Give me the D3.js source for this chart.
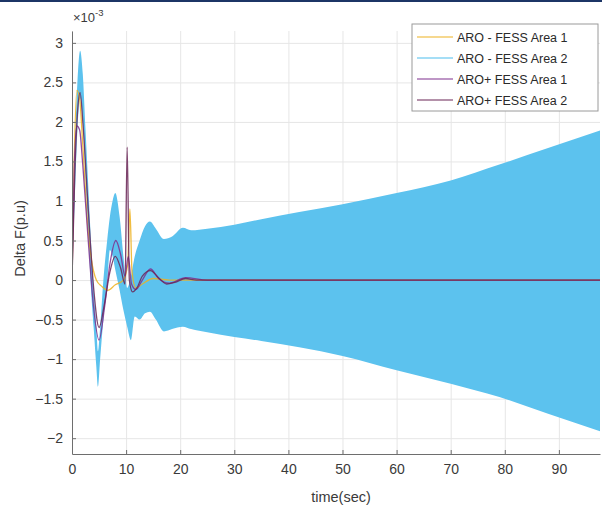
<!DOCTYPE html>
<html>
<head>
<meta charset="utf-8">
<script src="https://cdn.jsdelivr.net/npm/d3@7"></script>
<style>
  body { margin: 0; background: #fff; }
  svg { font-family: Arial, "Liberation Sans", sans-serif; }
</style>
</head>
<body>
<svg width="602" height="511"></svg>
<script>
// values in units of 1e-3 p.u.
var seriesNames = ["ARO - FESS Area 1", "ARO - FESS Area 2", "ARO+ FESS Area 1", "ARO+ FESS Area 2"];
var seriesColors = ["#EDB120", "#4DBEEE", "#7E2F8E", "#6A2456"];
var xTicks = [0, 10, 20, 30, 40, 50, 60, 70, 80, 90];
var yTicks = [-2, -1.5, -1, -0.5, 0, 0.5, 1, 1.5, 2, 2.5, 3];

// ARO - FESS Area 1
var tA = [0, 0.4, 0.9, 1.4, 2, 3, 3.5, 4.5, 5.5, 6.6, 8, 9.5, 10.3, 10.7, 11.1, 11.8, 13, 15, 18, 25, 98];
var vA = [0, 1.5, 2.4, 2.3, 1.7, 0.6, 0.3, 0.0, -0.08, -0.13, -0.06, 0.0, 0.2, 0.9, 0.1, -0.1, -0.05, 0.02, 0, 0, 0];

// ARO - FESS Area 2 (fast oscillation, drawn by its envelope)
var tB = [0, 0.5, 1, 1.5, 2, 2.5, 3, 3.5, 4, 4.5, 4.8, 5.2, 5.8, 6.5, 7, 7.5, 8, 8.8, 9.5, 10.2, 10.9, 11.6, 12.5, 13.5, 14.4, 15.5, 17, 18.5, 20.5, 22, 25, 30, 35, 42, 50, 60, 70, 79, 88, 98];
var upB = [0, 1.6, 2.5, 2.9, 2.6, 1.9, 1.2, 0.5, -0.1, -0.6, -0.9, -0.6, 0.0, 0.5, 0.8, 1.0, 1.1, 0.8, 0.3, -0.1, 0.05, 0.3, 0.5, 0.68, 0.74, 0.65, 0.52, 0.55, 0.66, 0.63, 0.65, 0.7, 0.77, 0.86, 0.96, 1.1, 1.26, 1.46, 1.67, 1.9];
var loB = [0, 1.0, 1.9, 2.3, 2.0, 1.3, 0.6, -0.1, -0.6, -1.1, -1.35, -1.0, -0.5, -0.05, 0.38, 0.3, 0.13, -0.13, -0.38, -0.59, -0.76, -0.46, -0.5, -0.42, -0.4, -0.5, -0.65, -0.62, -0.59, -0.62, -0.66, -0.72, -0.77, -0.85, -0.96, -1.14, -1.31, -1.48, -1.69, -1.92];

// ARO+ FESS Area 1
var tC = [0, 0.4, 0.9, 1.4, 2, 3, 4, 5, 6, 7, 8.1, 9, 9.8, 10.4, 11, 11.8, 13, 14.5, 16, 18, 21, 25, 98];
var vC = [0, 1.4, 1.95, 1.9, 1.45, 0.5, -0.35, -0.76, -0.35, 0.2, 0.5, 0.32, 0.05, 0.3, -0.05, -0.12, 0.0, 0.14, 0.02, -0.04, 0.03, 0, 0];

// ARO+ FESS Area 2
var tD = [0, 0.5, 1, 1.5, 2, 3, 4, 5, 6, 7, 8, 9, 9.8, 10.2, 10.6, 11.2, 12, 13, 14.5, 16, 17.5, 19, 21, 23, 98];
var vD = [0, 1.3, 2.1, 2.37, 2.0, 0.9, -0.1, -0.6, -0.3, 0.1, 0.3, 0.15, -0.05, 1.68, 0.0, -0.15, -0.1, 0.05, 0.12, 0.03, -0.05, -0.03, 0.02, 0.0, 0];

var svg = d3.select("svg"),
    margin = { top: 31, right: 2, bottom: 57, left: 72 },
    width = +svg.attr("width") - margin.left - margin.right,
    height = +svg.attr("height") - margin.top - margin.bottom;

// thin dark band along the top edge
svg.append("rect").attr("x", 0).attr("y", 0).attr("width", 602).attr("height", 2).attr("fill", "#1c3566");

var x = d3.scaleLinear().domain([0, 97.6]).range([0, width]);
var y = d3.scaleLinear().domain([-2.2, 3.15]).range([height, 0]);

var g = svg.append("g").attr("transform", "translate(" + margin.left + "," + margin.top + ")");

g.append("clipPath").attr("id", "clip")
    .append("rect").attr("width", width).attr("height", height);

// grid
g.append("g")
    .attr("transform", "translate(0," + height + ")")
    .call(d3.axisBottom(x).tickValues(xTicks).tickSize(-height).tickFormat(""))
    .call(function (s) { s.select(".domain").remove(); })
    .selectAll("line").attr("stroke", "#e6e6e6");
g.append("g")
    .call(d3.axisLeft(y).tickValues(yTicks).tickSize(-width).tickFormat(""))
    .call(function (s) { s.select(".domain").remove(); })
    .selectAll("line").attr("stroke", "#e6e6e6");

var plot = g.append("g").attr("clip-path", "url(#clip)");

var bData = tB.map(function (t, i) { return { t: t, hi: upB[i], lo: loB[i] }; });
plot.append("path")
    .datum(bData)
    .attr("fill", "#5CC2EE")
    .attr("d", d3.area()
        .curve(d3.curveMonotoneX)
        .x(function (d) { return x(d.t); })
        .y0(function (d) { return y(d.lo); })
        .y1(function (d) { return y(d.hi); }));

var line = d3.line()
    .curve(d3.curveMonotoneX)
    .x(function (d) { return x(d[0]); })
    .y(function (d) { return y(d[1]); });

[[tA, vA, 0], [tC, vC, 2], [tD, vD, 3]].forEach(function (s) {
    plot.append("path")
        .datum(s[0].map(function (t, i) { return [t, s[1][i]]; }))
        .attr("fill", "none")
        .attr("stroke", seriesColors[s[2]])
        .attr("stroke-width", 1.3)
        .attr("stroke-opacity", 0.85)
        .attr("stroke-linejoin", "round")
        .attr("d", line);
});

// axes
var xAxis = g.append("g")
    .attr("transform", "translate(0," + height + ")")
    .call(d3.axisBottom(x).tickValues(xTicks).tickSizeInner(-4).tickSizeOuter(0).tickPadding(10));
var yAxis = g.append("g")
    .call(d3.axisLeft(y).tickValues(yTicks).tickSizeInner(-4).tickSizeOuter(0).tickPadding(9)
        .tickFormat(function (d) { return d3.format("")(d); }));
[xAxis, yAxis].forEach(function (a) {
    a.select(".domain").attr("stroke", "#6e6e6e");
    a.selectAll(".tick line").attr("stroke", "#6e6e6e");
    a.selectAll("text").attr("fill", "#3a3a3a").style("font-size", "14px");
});

// exponent label
var ex = svg.append("text").attr("x", 73).attr("y", 22).attr("fill", "#3a3a3a").style("font-size", "13px");
ex.append("tspan").text("\u00d710");
ex.append("tspan").attr("dy", -6).style("font-size", "9.5px").text("-3");

svg.append("text")
    .attr("x", margin.left + width / 2 + 5).attr("y", 502)
    .attr("text-anchor", "middle").attr("fill", "#3a3a3a").style("font-size", "14.5px")
    .text("time(sec)");
svg.append("text")
    .attr("transform", "translate(25," + (margin.top + height / 2 - 4) + ") rotate(-90)")
    .attr("text-anchor", "middle").attr("fill", "#3a3a3a").style("font-size", "14.5px")
    .text("Delta F(p.u)");

// legend
var lg = svg.append("g").attr("transform", "translate(412,24)");
lg.append("rect").attr("width", 186).attr("height", 87)
    .attr("fill", "#fff").attr("stroke", "#9a9a9a").attr("stroke-width", 1);
seriesNames.forEach(function (n, i) {
    var yy = 13 + i * 21;
    lg.append("line").attr("x1", 5).attr("x2", 41).attr("y1", yy).attr("y2", yy)
        .attr("stroke", seriesColors[i]).attr("stroke-width", 1.2);
    lg.append("text").attr("x", 45).attr("y", yy + 4.5)
        .attr("fill", "#2a2a2a").style("font-size", "12.5px").text(n);
});
</script>
</body>
</html>
